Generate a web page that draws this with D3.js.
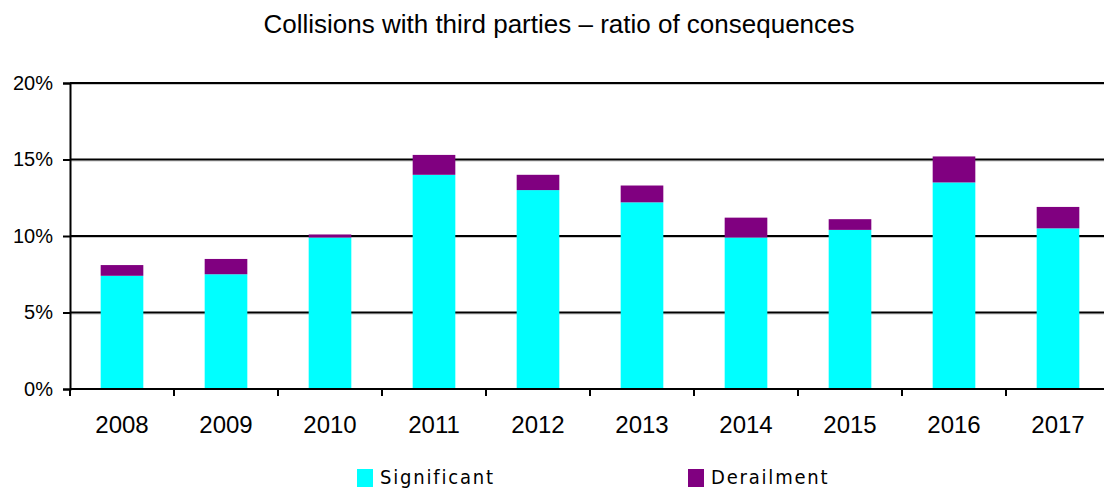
<!DOCTYPE html>
<html>
<head>
<meta charset="utf-8">
<script src="https://cdn.jsdelivr.net/npm/d3@7/dist/d3.min.js"></script>
<style>
  html, body { margin: 0; padding: 0; background: #fff; }
  svg { display: block; }
</style>
</head>
<body>
<svg id="chart" width="1104" height="489"></svg>
<script>
// Collisions with third parties – share of outcomes per year (percent)
const years = ["2008", "2009", "2010", "2011", "2012", "2013", "2014", "2015", "2016", "2017"];
const significant = [7.4, 7.5, 9.9, 14.0, 13.0, 12.2, 9.9, 10.4, 13.5, 10.5];
const derailment  = [0.7, 1.0, 0.2, 1.3, 1.0, 1.1, 1.3, 0.7, 1.7, 1.4];
const seriesNames = ["Significant", "Derailment"];
const seriesColors = ["#00ffff", "#800080"];
const yTicks = [0, 5, 10, 15, 20];

const svg = d3.select("#chart");
const margin = { left: 70, right: -6, top: 83 };
const W = 1104;
const plotBottom = 389;
const axisFont = "Liberation Sans, Arial, sans-serif";

const x = d3.scaleBand()
  .domain(years)
  .range([margin.left, W - margin.right])
  .paddingInner(0.59)
  .paddingOuter(0.295);

const y = d3.scaleLinear().domain([0, 20]).range([plotBottom, margin.top]);

// Title
svg.append("text")
  .attr("x", 559).attr("y", 33)
  .attr("text-anchor", "middle")
  .attr("font-family", axisFont)
  .attr("font-size", 26)
  .attr("fill", "#000")
  .text("Collisions with third parties – ratio of consequences");

// Gridlines
const grid = svg.append("g");
yTicks.filter(d => d > 0).forEach(t => {
  grid.append("line")
    .attr("x1", margin.left).attr("x2", W)
    .attr("y1", y(t) + 1.5).attr("y2", y(t) + 1.5)
    .attr("stroke", "#c8c8c8").attr("stroke-width", 1);
  grid.append("line")
    .attr("x1", margin.left).attr("x2", W)
    .attr("y1", y(t)).attr("y2", y(t))
    .attr("stroke", "#000").attr("stroke-width", 2);
});

// Stacked bars
const rows = years.map((yr, i) => ({ year: yr, Significant: significant[i], Derailment: derailment[i] }));
const stack = d3.stack().keys(seriesNames)(rows);
svg.append("g").selectAll("g")
  .data(stack)
  .join("g")
  .attr("fill", (d, i) => seriesColors[i])
  .selectAll("rect")
  .data(d => d)
  .join("rect")
  .attr("x", d => x(d.data.year))
  .attr("width", x.bandwidth())
  .attr("y", d => y(d[1]))
  .attr("height", d => y(d[0]) - y(d[1]));

// Y axis
const yAxis = d3.axisLeft(y).tickValues(yTicks).tickFormat(d => d + "%").tickSize(7).tickPadding(10);
const gy = svg.append("g").attr("transform", `translate(${margin.left},0)`).call(yAxis);
gy.select(".domain").attr("stroke", "#000").attr("stroke-width", 2);
gy.selectAll(".tick line").attr("stroke", "#000").attr("stroke-width", 2);
gy.selectAll(".tick text")
  .attr("font-family", axisFont)
  .attr("font-size", 20).attr("fill", "#000");

// X axis with ticks between categories
const xAxisG = svg.append("g");
xAxisG.append("line")
  .attr("x1", margin.left).attr("x2", W)
  .attr("y1", plotBottom).attr("y2", plotBottom)
  .attr("stroke", "#000").attr("stroke-width", 2);
const step = x.step();
years.forEach((yr, i) => {
  const tx = x(yr) + x.bandwidth() / 2 - step / 2;
  xAxisG.append("line")
    .attr("x1", tx).attr("x2", tx)
    .attr("y1", plotBottom).attr("y2", plotBottom + 7)
    .attr("stroke", "#000").attr("stroke-width", 2);
  xAxisG.append("text")
    .attr("x", x(yr) + x.bandwidth() / 2)
    .attr("y", 433)
    .attr("text-anchor", "middle")
    .attr("font-family", axisFont)
    .attr("font-size", 24).attr("fill", "#000")
    .text(yr);
});

// Legend
const legendX = [357, 688];
const legend = svg.append("g");
seriesNames.forEach((name, i) => {
  legend.append("rect")
    .attr("x", legendX[i]).attr("y", 469)
    .attr("width", 16).attr("height", 18)
    .attr("fill", seriesColors[i]);
  legend.append("text")
    .attr("x", legendX[i] + 23).attr("y", 484)
    .attr("font-family", "DejaVu Sans Condensed, DejaVu Sans, sans-serif")
    .attr("font-size", 20)
    .attr("letter-spacing", 1.8)
    .attr("fill", "#000")
    .text(name);
});
</script>
</body>
</html>
